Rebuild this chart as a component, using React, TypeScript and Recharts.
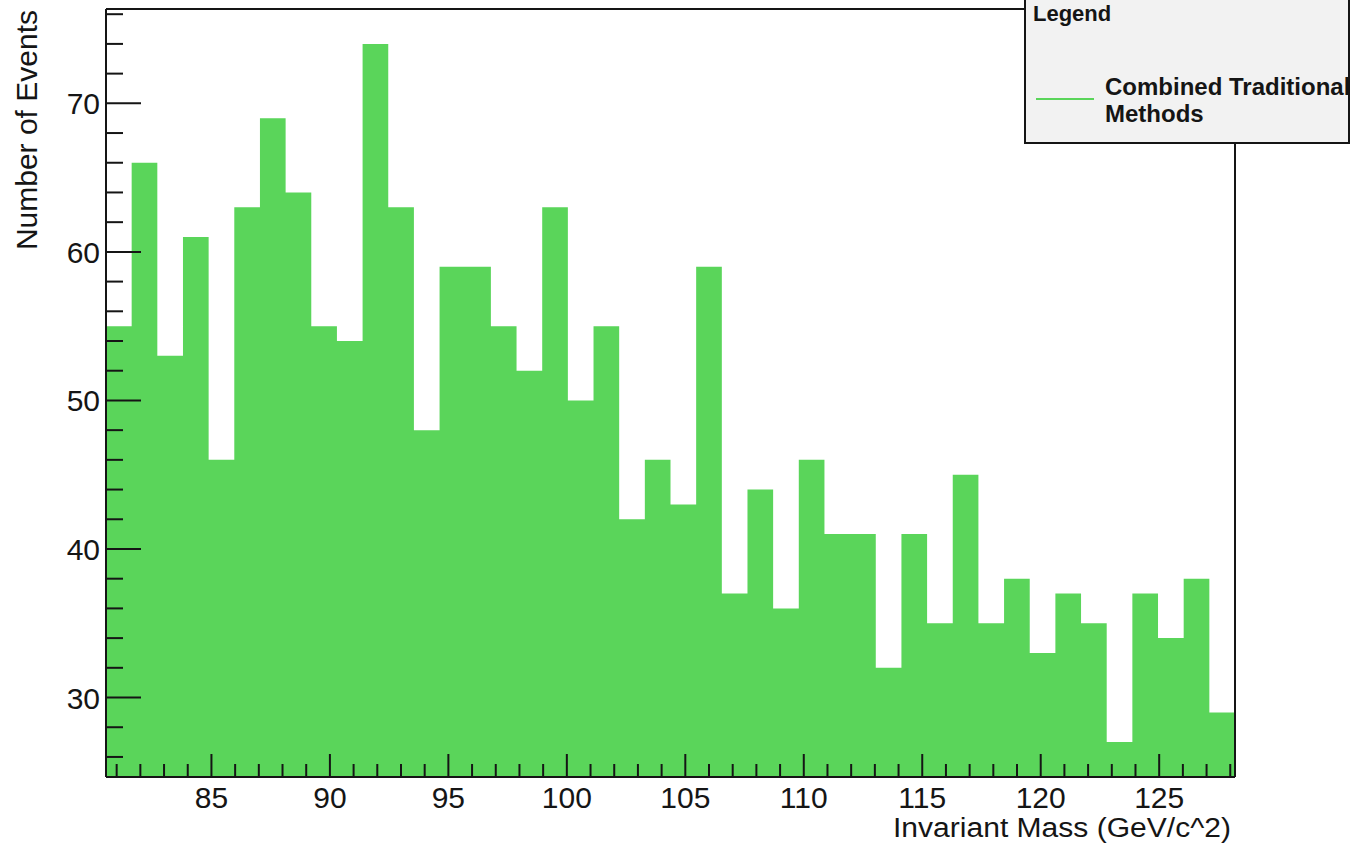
import { ComposedChart, Area, XAxis, YAxis } from 'recharts'

// histogram of invariant mass, 44 bins
const massLow = 80.55
const massHigh = 128.2
const events = [
  55, 66, 53, 61, 46, 63, 69, 64, 55, 54, 74, 63, 48, 59, 59, 55, 52, 63, 50, 55, 42, 46,
  43, 59, 37, 44, 36, 46, 41, 41, 32, 41, 35, 45, 35, 38, 33, 37, 35, 27, 37, 34, 38, 29,
]
const eventRange = [24.65, 76.35]
const xMajor = [85, 90, 95, 100, 105, 110, 115, 120, 125]
const yMajor = [30, 40, 50, 60, 70]
const xTicks = Array.from({ length: 48 }, (_, i) => 81 + i)
const yTicks = Array.from({ length: 26 }, (_, i) => 26 + i * 2)

const binWidth = (massHigh - massLow) / events.length
const data = [
  ...events.map((n, i) => ({ mass: massLow + i * binWidth, n })),
  { mass: massHigh, n: events[events.length - 1] },
]

const GREEN = '#5ad55a'
const INK = '#151515'
const FONT = "'Liberation Sans', Arial, Helvetica, sans-serif"

function XTick(props: any) {
  const { x, y, payload } = props
  const major = xMajor.includes(payload.value)
  return (
    <g>
      <line x1={x} x2={x} y1={y} y2={y - (major ? 23 : 13)} stroke={INK} strokeWidth={2} />
      {major && (
        <text x={x} y={y + 31} textAnchor="middle" fontSize={30} fontFamily={FONT} fill={INK}>
          {payload.value}
        </text>
      )}
    </g>
  )
}

function YTick(props: any) {
  const { x, y, payload } = props
  const major = yMajor.includes(payload.value)
  return (
    <g>
      <line x1={x} x2={x + (major ? 35 : 17)} y1={y} y2={y} stroke={INK} strokeWidth={2} />
      {major && (
        <text x={x - 6} y={y + 11} textAnchor="end" fontSize={30} fontFamily={FONT} fill={INK}>
          {payload.value}
        </text>
      )}
    </g>
  )
}

function XTitle() {
  return (
    <text x={1231} y={837} textAnchor="end" fontSize={27} fontFamily={FONT} fill={INK}
      textLength={338} lengthAdjust="spacingAndGlyphs">
      Invariant Mass (GeV/c^2)
    </text>
  )
}

function YTitle() {
  return (
    <text x={37} y={10} transform="rotate(-90 37 10)" textAnchor="end" fontSize={30}
      fontFamily={FONT} fill={INK}>
      Number of Events
    </text>
  )
}

export default function App() {
  return (
    <div style={{ position: 'absolute', left: 0, top: 0, width: 1358, height: 846, background: '#fff', overflow: 'hidden' }}>
      <ComposedChart width={1358} height={846} data={data} margin={{ top: 8, right: 122, left: 0, bottom: 0 }}>
        <Area
          type="stepAfter"
          dataKey="n"
          stroke="none"
          fill={GREEN}
          fillOpacity={1}
          isAnimationActive={false}
        />
        <XAxis
          dataKey="mass"
          type="number"
          domain={[massLow, massHigh]}
          allowDataOverflow
          ticks={xTicks}
          interval={0}
          height={69}
          tickSize={0}
          tickMargin={0}
          tickLine={false}
          axisLine={{ stroke: INK, strokeWidth: 2 }}
          tick={XTick}
          label={<XTitle />}
        />
        <XAxis
          xAxisId="top"
          orientation="top"
          dataKey="mass"
          type="number"
          domain={[massLow, massHigh]}
          allowDataOverflow
          height={1}
          tick={false}
          tickLine={false}
          axisLine={{ stroke: INK, strokeWidth: 2 }}
        />
        <YAxis
          type="number"
          domain={eventRange}
          allowDataOverflow
          ticks={yTicks}
          interval={0}
          width={106}
          tickSize={0}
          tickMargin={0}
          tickLine={false}
          axisLine={{ stroke: INK, strokeWidth: 2 }}
          tick={YTick}
          label={<YTitle />}
        />
        <YAxis
          yAxisId="right"
          orientation="right"
          type="number"
          domain={eventRange}
          allowDataOverflow
          width={1}
          tick={false}
          tickLine={false}
          axisLine={{ stroke: INK, strokeWidth: 2 }}
        />
      </ComposedChart>
      <div
        style={{
          position: 'absolute',
          left: 1024,
          top: -20,
          width: 326,
          height: 164,
          boxSizing: 'border-box',
          background: '#f2f2f2',
          border: `2px solid ${INK}`,
          overflow: 'hidden',
          fontFamily: FONT,
          fontWeight: 'bold',
          color: INK,
        }}
      >
        <div style={{ position: 'absolute', left: 7, top: 21, fontSize: 22, lineHeight: '22px' }}>Legend</div>
        <div style={{ position: 'absolute', left: 10, top: 116, width: 58, height: 2, background: GREEN }} />
        <div style={{ position: 'absolute', left: 79, top: 91, fontSize: 24, lineHeight: '27px', whiteSpace: 'nowrap' }}>
          Combined Traditional
          <br />
          Methods
        </div>
      </div>
    </div>
  )
}
